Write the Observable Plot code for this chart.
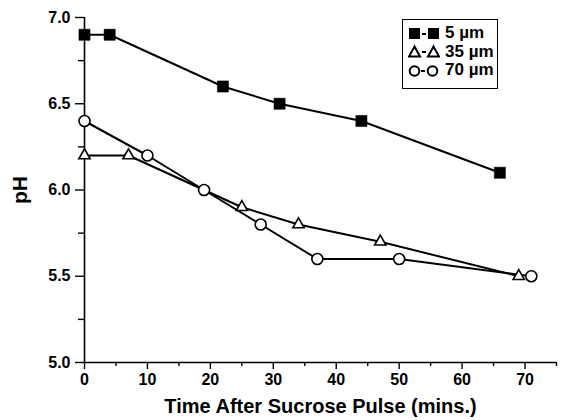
<!DOCTYPE html>
<html>
<head>
<meta charset="utf-8">
<script src="https://cdn.jsdelivr.net/npm/d3@7"></script>
<script src="https://cdn.jsdelivr.net/npm/@observablehq/plot@0.6"></script>
<style>
  html, body { margin: 0; padding: 0; background: #fff; }
  #wrap { position: relative; width: 568px; height: 420px; font-family: "Liberation Sans", Arial, sans-serif; }
  #legend { position: absolute; left: 402px; top: 19px; width: 96px; height: 70px; border: 1.5px solid #000; background: #fff; box-sizing: border-box; font-weight: bold; font-size: 17px; white-space: nowrap; }
  .row { position: absolute; left: 5px; display: flex; align-items: center; height: 18px; white-space: nowrap; }
  .row svg { margin-right: 5px; flex: none; }
</style>
</head>
<body>
<div id="wrap"></div>
<script>
const series = ["5 µm", "35 µm", "70 µm"];
const time5 = [0, 4, 22, 31, 44, 66];
const ph5 = [6.9, 6.9, 6.6, 6.5, 6.4, 6.1];
const time35 = [0, 7, 25, 34, 47, 69];
const ph35 = [6.2, 6.2, 5.9, 5.8, 5.7, 5.5];
const time70 = [0, 10, 19, 28, 37, 50, 71];
const ph70 = [6.4, 6.2, 6.0, 5.8, 5.6, 5.6, 5.5];
const xTicks = [0, 10, 20, 30, 40, 50, 60, 70];
const xMinor = [5, 15, 25, 35, 45, 55, 65, 75];
const yTicks = [5.0, 5.5, 6.0, 6.5, 7.0];
const yMinor = [5.25, 5.75, 6.25, 6.75];

const mk = (t, p, s) => t.map((x, i) => ({time: x, ph: p[i], series: s}));
const d5 = mk(time5, ph5, series[0]);
const d35 = mk(time35, ph35, series[1]);
const d70 = mk(time70, ph70, series[2]);

const font = "bold 16px 'Liberation Sans', Arial, sans-serif";
const chart = Plot.plot({
  width: 568, height: 420,
  marginLeft: 84, marginRight: 12, marginTop: 17, marginBottom: 58,
  style: {font: font, background: "#fff", color: "#000"},
  x: {domain: [0, 75]},
  y: {domain: [5, 7]},
  marks: [
    Plot.ruleY([5], {stroke: "#000", strokeWidth: 1.6}),
    Plot.ruleX([0], {stroke: "#000", strokeWidth: 1.6}),
    Plot.axisX({ticks: xMinor, tickSize: 4, text: null, label: null, strokeWidth: 1.4}),
    Plot.axisX({ticks: xTicks, tickSize: 7, tickPadding: 4, tickFormat: d3.format("d"), strokeWidth: 1.4,
      label: "Time After Sucrose Pulse (mins.)", labelAnchor: "center", labelArrow: "none", labelOffset: 50,
      fontSize: 16, fontWeight: "bold"}),
    Plot.axisY({ticks: yMinor, tickSize: 6, text: null, label: null, strokeWidth: 1.4}),
    Plot.axisY({ticks: yTicks, tickSize: 9, tickPadding: 5, tickFormat: d3.format(".1f"), strokeWidth: 1.4,
      label: "pH", labelAnchor: "center", labelArrow: "none", labelOffset: 72,
      fontSize: 16, fontWeight: "bold"}),
    Plot.line(d35, {x: "time", y: "ph", stroke: "#000", strokeWidth: 2}),
    Plot.line(d70, {x: "time", y: "ph", stroke: "#000", strokeWidth: 2}),
    Plot.line(d5, {x: "time", y: "ph", stroke: "#000", strokeWidth: 2}),
    Plot.dot(d35, {x: "time", y: "ph", symbol: "triangle", r: 4.2, fill: "#fff", stroke: "#000", strokeWidth: 1.6}),
    Plot.dot(d70, {x: "time", y: "ph", symbol: "circle", r: 5.5, fill: "#fff", stroke: "#000", strokeWidth: 1.6}),
    Plot.dot(d5, {x: "time", y: "ph", symbol: "square", r: 6.3, fill: "#000", stroke: "#000", strokeWidth: 0.5})
  ]
});

chart.querySelectorAll("[aria-label='x-axis label'] text").forEach(t => t.setAttribute("font-size", "20"));
chart.querySelectorAll("[aria-label='y-axis label'] text").forEach(t => t.setAttribute("font-size", "21"));
document.getElementById("wrap").appendChild(chart);

// legend
const legend = document.createElement("div");
legend.id = "legend";
const sym = {
  "5 µm": '<rect x="1" y="2" width="11" height="11" fill="#000"/><rect x="14" y="7" width="4" height="2" fill="#000"/><rect x="20" y="2" width="11" height="11" fill="#000"/>',
  "35 µm": '<path d="M6.5 2.5 L12 12.5 L1 12.5 Z" fill="#fff" stroke="#000" stroke-width="2"/><rect x="14" y="7" width="4" height="2" fill="#000"/><path d="M25.5 2.5 L31 12.5 L20 12.5 Z" fill="#fff" stroke="#000" stroke-width="2"/>',
  "70 µm": '<circle cx="6.5" cy="8" r="4.8" fill="#fff" stroke="#000" stroke-width="2"/><rect x="13" y="7" width="4" height="2" fill="#000"/><circle cx="24.5" cy="8" r="4.8" fill="#fff" stroke="#000" stroke-width="2"/>'
};
series.forEach((s, i) => {
  const row = document.createElement("div");
  row.className = "row";
  row.style.top = (4 + i * 18.5) + "px";
  row.innerHTML = `<svg width="32" height="15">${sym[s]}</svg><span>${s}</span>`;
  legend.appendChild(row);
});
document.getElementById("wrap").appendChild(legend);
</script>
</body>
</html>
